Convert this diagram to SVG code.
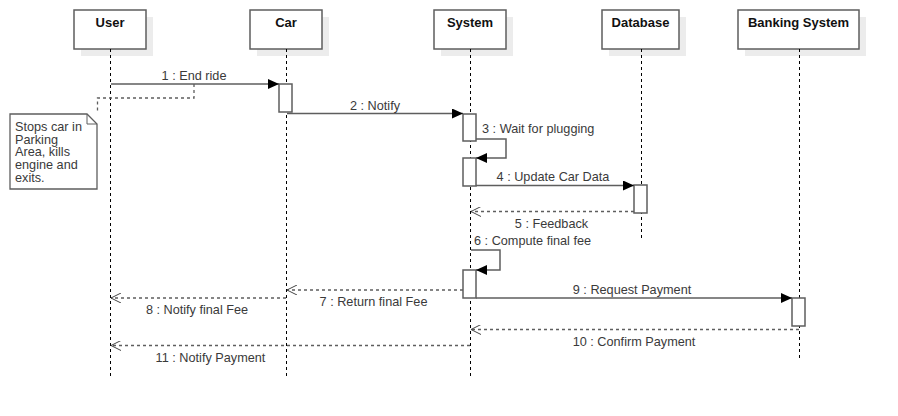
<svg xmlns="http://www.w3.org/2000/svg" width="898" height="416" viewBox="0 0 898 416">
<style>
.shadow{fill:#ececec;stroke:none}
.box{fill:#fff;stroke:#5e5e5e;stroke-width:1.5}
.title{font-family:"Liberation Sans",Arial,sans-serif;font-size:13px;font-weight:bold;fill:#111;text-anchor:middle}
.life{stroke:#000;stroke-width:1;stroke-dasharray:3,3;fill:none}
.act{fill:#fff;stroke:#5e5e5e;stroke-width:1.5}
.msg{stroke:#5e5e5e;stroke-width:1.5;fill:none}
.ret{stroke:#5e5e5e;stroke-width:1.3;stroke-dasharray:3,3;fill:none}
.lbl{font-family:"Liberation Sans",Arial,sans-serif;font-size:12.7px;fill:#3a3a3a}
.c{text-anchor:middle}
</style>
<defs>
<marker id="fill" markerWidth="12" markerHeight="10" refX="11" refY="5" orient="auto" markerUnits="userSpaceOnUse">
<path d="M0,0 L11,5 L0,10 Z" fill="#000"/>
</marker>
<marker id="open" markerWidth="12" markerHeight="10" refX="10" refY="5" orient="auto" markerUnits="userSpaceOnUse">
<path d="M0,0 L10,5 L0,10" fill="none" stroke="#444" stroke-width="1"/>
</marker>
</defs>

<g id="user">
<rect class="shadow" x="81" y="17" width="72" height="39"/>
<rect class="box" x="74" y="10" width="72" height="39"/>
<text class="title" x="110" y="27">User</text>
<line class="life" x1="110.5" y1="49" x2="110.5" y2="376"/>
</g>
<g id="car">
<rect class="shadow" x="257" y="17" width="72" height="39"/>
<rect class="box" x="250" y="10" width="72" height="39"/>
<text class="title" x="286" y="27">Car</text>
<line class="life" x1="286.5" y1="49" x2="286.5" y2="376"/>
<rect class="act" x="279" y="84" width="13" height="28"/>
</g>
<g id="system">
<rect class="shadow" x="441" y="17" width="72" height="39"/>
<rect class="box" x="434" y="10" width="72" height="39"/>
<text class="title" x="470" y="27">System</text>
<line class="life" x1="470.5" y1="49" x2="470.5" y2="376"/>
<rect class="act" x="463" y="114" width="13" height="27"/>
<rect class="act" x="463" y="158" width="13" height="28"/>
<rect class="act" x="463" y="270" width="13" height="28"/>
</g>
<g id="database">
<rect class="shadow" x="609" y="17" width="77" height="39"/>
<rect class="box" x="602" y="10" width="77" height="39"/>
<text class="title" x="640.5" y="27">Database</text>
<line class="life" x1="641.5" y1="49" x2="641.5" y2="238"/>
<rect class="act" x="634" y="185" width="13" height="28"/>
</g>
<g id="banking">
<rect class="shadow" x="745" y="17" width="121" height="39"/>
<rect class="box" x="738" y="10" width="121" height="39"/>
<text class="title" x="798.5" y="27">Banking System</text>
<line class="life" x1="799.5" y1="49" x2="799.5" y2="360"/>
<rect class="act" x="792" y="298" width="13" height="28"/>
</g>
<g id="note">
<path d="M10,114 L87,114 L97,124 L97,189 L10,189 Z" fill="#fff" stroke="#5e5e5e" stroke-width="1.3"/>
<path d="M87,114 L87,124 L97,124" fill="none" stroke="#5e5e5e" stroke-width="1"/>
<text class="lbl" x="15"><tspan x="15" y="131">Stops car in</tspan><tspan x="15" y="143.7">Parking</tspan><tspan x="15" y="156.4">Area, kills</tspan><tspan x="15" y="169.1">engine and</tspan><tspan x="15" y="182">exits.</tspan></text>
</g>

<g id="connectors">
<path class="ret" d="M194,84 L194,98 L97.5,98 L97.5,112" stroke-dasharray="3,2.5"/>
<line class="msg" x1="111" y1="84" x2="279" y2="84" marker-end="url(#fill)"/>
<line class="msg" x1="287" y1="113.5" x2="463" y2="113.5" marker-end="url(#fill)"/>
<path class="msg" d="M476,139 L506,139 L506,158 L476,158" marker-end="url(#fill)"/>
<line class="msg" x1="476" y1="185.5" x2="634" y2="185.5" marker-end="url(#fill)"/>
<line class="ret" x1="634" y1="211.5" x2="471" y2="211.5" marker-end="url(#open)"/>
<path class="msg" d="M471,250 L500,250 L500,270 L476,270" marker-end="url(#fill)"/>
<line class="ret" x1="463" y1="290" x2="287" y2="290" marker-end="url(#open)"/>
<line class="ret" x1="286" y1="298" x2="111" y2="298" marker-end="url(#open)"/>
<line class="msg" x1="476" y1="298" x2="792" y2="298" marker-end="url(#fill)"/>
<line class="ret" x1="799" y1="329.5" x2="471" y2="329.5" marker-end="url(#open)"/>
<line class="ret" x1="470" y1="345.5" x2="111" y2="345.5" marker-end="url(#open)"/>
<text class="lbl c" x="194" y="80">1 : End ride</text>
<text class="lbl c" x="375" y="109.5">2 : Notify</text>
<text class="lbl" x="482" y="133">3 : Wait for plugging</text>
<text class="lbl c" x="553" y="181">4 : Update Car Data</text>
<text class="lbl c" x="551.5" y="228">5 : Feedback</text>
<text class="lbl" x="474" y="245">6 : Compute final fee</text>
<text class="lbl c" x="373.5" y="305.5">7 : Return final Fee</text>
<text class="lbl c" x="197" y="314">8 : Notify final Fee</text>
<text class="lbl c" x="632" y="294">9 : Request Payment</text>
<text class="lbl c" x="634" y="346">10 : Confirm Payment</text>
<text class="lbl c" x="210.5" y="362">11 : Notify Payment</text>
</g>
</svg>
